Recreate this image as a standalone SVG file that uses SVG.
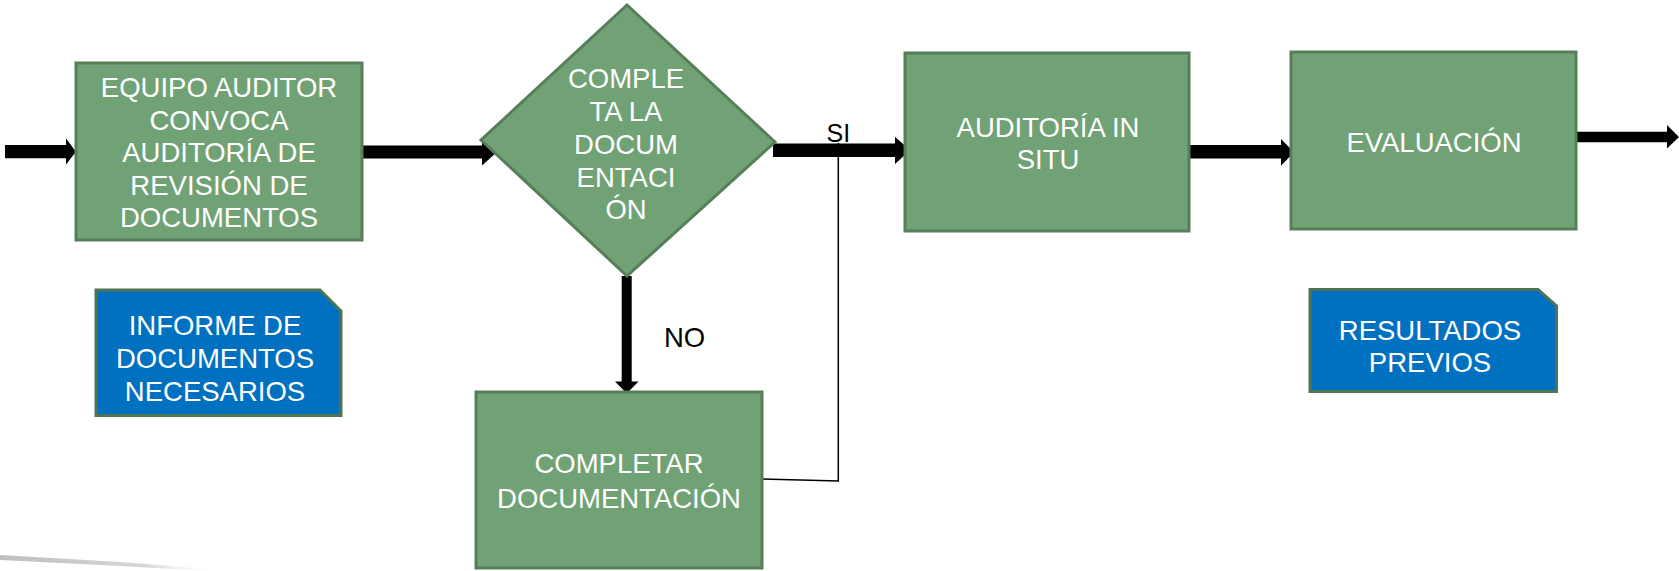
<svg xmlns="http://www.w3.org/2000/svg" width="1679" height="571" viewBox="0 0 1679 571">
<defs>
<linearGradient id="smudge" x1="0" y1="0" x2="1" y2="0">
<stop offset="0" stop-color="#b8b8b8" stop-opacity="0.9"/>
<stop offset="0.7" stop-color="#c4c4c4" stop-opacity="0.7"/>
<stop offset="1" stop-color="#dddddd" stop-opacity="0"/>
</linearGradient>
</defs>
<style>
.proc{fill:#70a275;stroke:#567f59;stroke-width:3}
.doc{fill:#0070c0;stroke:#4f7451;stroke-width:3}
.t{font-family:"Liberation Sans",Arial,sans-serif;font-size:27.5px;fill:#ffffff;text-anchor:middle}
.t2{font-family:"Liberation Sans",Arial,sans-serif;font-size:27.5px;fill:#ffffff;text-anchor:middle}
.lbl{font-family:"Liberation Sans",Arial,sans-serif;fill:#000000}
.arr{fill:#000000}
.thin{fill:none;stroke:#000000;stroke-width:1.5}
</style>
<rect width="1679" height="571" fill="#ffffff"/>
<polygon points="0,555 120,562 207,569 207,571 120,566 0,560" fill="url(#smudge)"/>

<g id="connectors">
<polygon class="arr" points="5,145 66,145 66,138.5 76,151.7 66,164.5 66,158.3 5,158.3"/>
<polygon class="arr" points="362,145.5 482,145.5 482,138.5 497,152 482,165.5 482,158.5 362,158.5"/>
<polygon class="arr" points="773,143.5 895,143.5 895,136.7 910,150.3 895,164 895,157 773,157"/>
<polygon class="arr" points="1188,145 1281,145 1281,139 1294,152.3 1281,165.7 1281,158.5 1188,158.5"/>
<polygon class="arr" points="1576,131.7 1667,131.7 1667,125 1679,137 1667,148.5 1667,142.3 1576,142.3"/>
<polygon class="arr" points="621.7,276 631.7,276 631.7,381.5 638.5,381.5 626.7,393.5 615,381.5 621.7,381.5"/>
<polyline class="thin" points="762,479 838.3,481 838.3,143"/>
<text class="lbl" x="826.5" y="141.5" font-size="25">SI</text>
<text class="lbl" x="664" y="346.5" font-size="27.5">NO</text>
</g>

<g id="n1">
<rect class="proc" x="76" y="63" width="286" height="177"/>
<text class="t" x="219" y="97">EQUIPO AUDITOR</text>
<text class="t" x="219" y="129.5">CONVOCA</text>
<text class="t" x="219" y="162">AUDITORÍA DE</text>
<text class="t" x="219" y="194.5">REVISIÓN DE</text>
<text class="t" x="219" y="227">DOCUMENTOS</text>
</g>

<g id="n2">
<polygon class="proc" points="627,5 775,142 627,276 481,140"/>
<text class="t" x="626" y="87.5">COMPLE</text>
<text class="t" x="626" y="120.5">TA LA</text>
<text class="t" x="626" y="153.5">DOCUM</text>
<text class="t" x="626" y="186.5">ENTACI</text>
<text class="t" x="626" y="219">ÓN</text>
</g>

<g id="n3">
<rect class="proc" x="905" y="53" width="284" height="178"/>
<text class="t2" x="1048" y="137">AUDITORÍA IN</text>
<text class="t2" x="1048" y="169">SITU</text>
</g>

<g id="n4">
<rect class="proc" x="1291" y="52" width="285" height="177"/>
<text class="t2" x="1434" y="151.5">EVALUACIÓN</text>
</g>

<g id="n5">
<rect class="proc" x="476" y="392" width="286" height="176"/>
<text class="t" x="619" y="473">COMPLETAR</text>
<text class="t" x="619" y="508">DOCUMENTACIÓN</text>
</g>

<g id="n6">
<polygon class="doc" points="96,290 320,290 341,311 341,415.5 96,415.5"/>
<text class="t" x="215" y="335">INFORME DE</text>
<text class="t" x="215" y="368">DOCUMENTOS</text>
<text class="t" x="215" y="401">NECESARIOS</text>
</g>

<g id="n7">
<polygon class="doc" points="1310,289.5 1538,289.5 1556.5,306 1556.5,391.5 1310,391.5"/>
<text class="t" x="1430" y="340">RESULTADOS</text>
<text class="t" x="1430" y="372">PREVIOS</text>
</g>
</svg>
